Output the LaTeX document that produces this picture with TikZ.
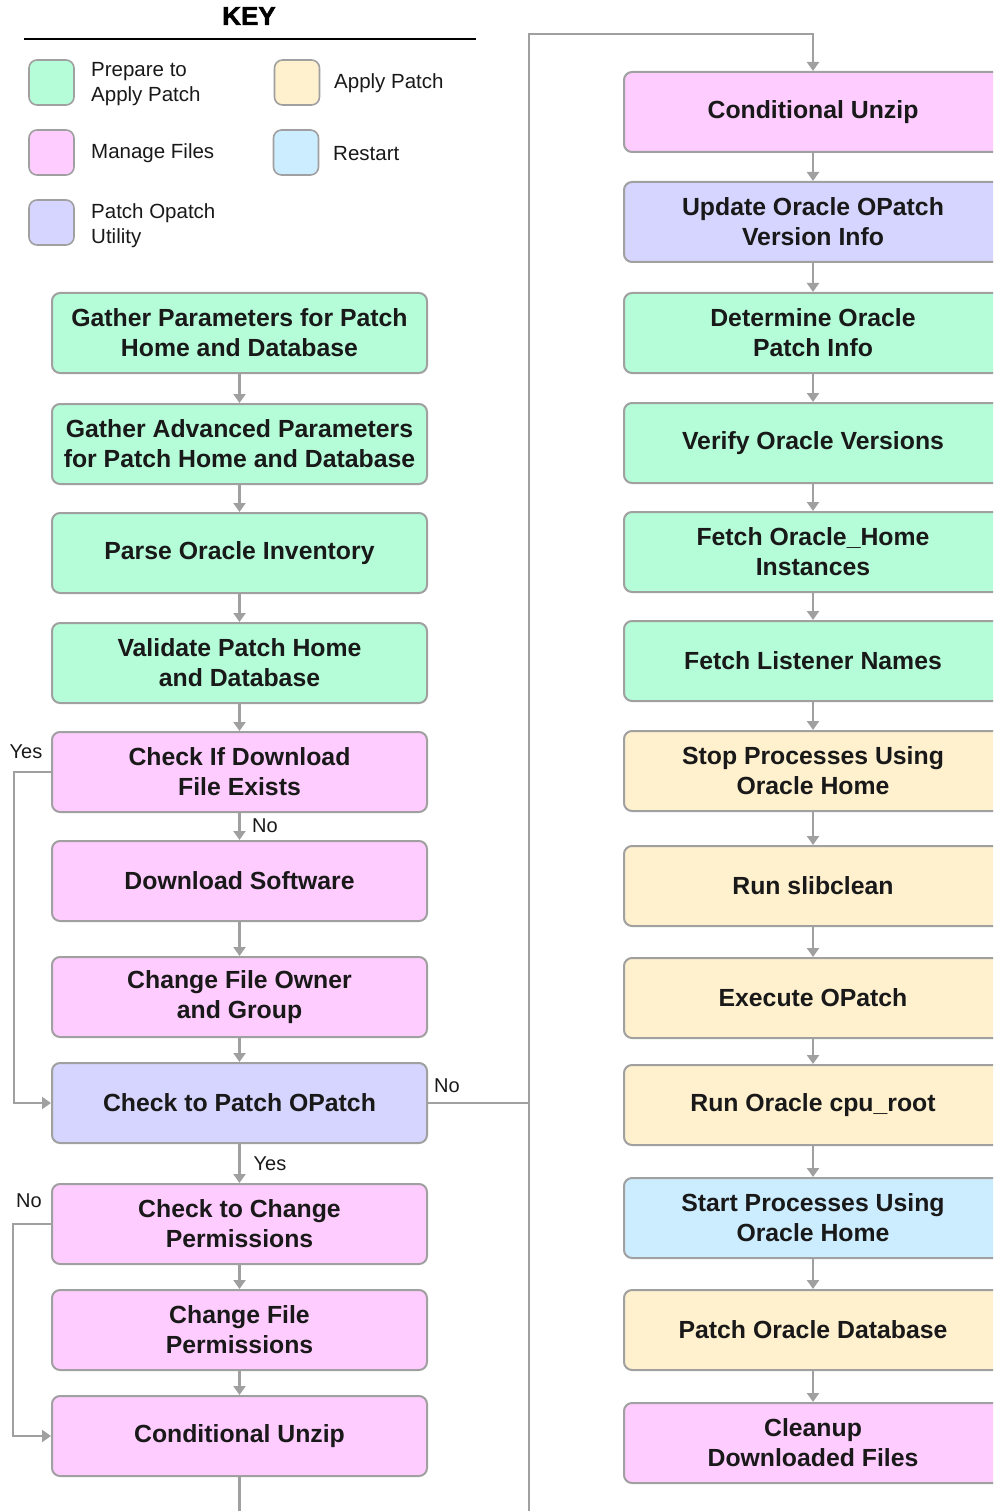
\documentclass[tikz,border=0pt]{standalone}
\usepackage{fontspec}
\setmainfont{Liberation Sans}
\newfontfamily\keyfont[FakeBold=2]{Liberation Sans Bold}
\usetikzlibrary{arrows.meta}
\definecolor{cgreen}{RGB}{180,253,216}
\definecolor{cpink}{RGB}{255,204,255}
\definecolor{clav}{RGB}{213,213,255}
\definecolor{cpeach}{RGB}{255,240,206}
\definecolor{cblue}{RGB}{204,236,255}
\definecolor{cgray}{RGB}{160,160,160}
\definecolor{ctext}{RGB}{25,25,25}
\begin{document}
\begin{tikzpicture}[x=1pt,y=-1pt,
  box/.style={draw=cgray, line width=2pt, rounded corners=8pt, minimum width=375pt,
    minimum height=80pt, align=center, inner sep=0pt, text=ctext,
    font=\fontsize{24.8}{30}\selectfont\bfseries},
  rbox/.style={box, minimum width=378pt},
  swatch/.style={draw=cgray, line width=1.6pt, rounded corners=8pt, minimum size=45pt, inner sep=0pt},
  keytxt/.style={anchor=west, align=left, inner sep=0pt, text=ctext, font=\fontsize{20.5}{25}\selectfont},
  lbl/.style={inner sep=0pt, text=ctext, font=\fontsize{20}{24}\selectfont},
  line/.style={draw=cgray, line width=2.4pt},
  conn/.style={line, -{Triangle[width=12pt,length=9pt]}}
]
\useasboundingbox (0,0) rectangle (993,1511);
\clip (0,0) rectangle (993,1511);

% Key
\node[inner sep=0pt, text=black, font=\fontsize{26}{30}\selectfont\keyfont] (keyt) at (249,16) {KEY};
\draw[line width=2pt, black] (24,39) -- (476,39);
\node[swatch, fill=cgreen] (kg) at (51.5,82.5) {};
\node[swatch, fill=cpink] (kp) at (51.5,152.5) {};
\node[swatch, fill=clav] (kl) at (51.5,222.5) {};
\node[swatch, fill=cpeach] (ko) at (297,82.5) {};
\node[swatch, fill=cblue] (kb) at (296,152.5) {};
\node[keytxt] (kgt) at (91,84) {Prepare to\\Apply Patch};
\node[keytxt] (kpt) at (91,153) {Manage Files};
\node[keytxt] (klt) at (91,226) {Patch Opatch\\Utility};
\node[keytxt] (kot) at (334,83) {Apply Patch};
\node[keytxt] (kbt) at (333,154) {Restart};

% Left column
\node[box, fill=cgreen] (l1) at (239.5,333) {Gather Parameters for Patch\\Home and Database};
\node[box, fill=cgreen] (l2) at (239.5,444) {Gather Advanced Parameters\\for Patch Home and Database};
\node[box, fill=cgreen] (l3) at (239.5,553) {Parse Oracle Inventory};
\node[box, fill=cgreen] (l4) at (239.5,663) {Validate Patch Home\\and Database};
\node[box, fill=cpink] (l5) at (239.5,772) {Check If Download\\File Exists};
\node[box, fill=cpink] (l6) at (239.5,881) {Download Software};
\node[box, fill=cpink] (l7) at (239.5,997) {Change File Owner\\and Group};
\node[box, fill=clav] (l8) at (239.5,1103) {Check to Patch OPatch};
\node[box, fill=cpink] (l9) at (239.5,1224) {Check to Change\\Permissions};
\node[box, fill=cpink] (l10) at (239.5,1330) {Change File\\Permissions};
\node[box, fill=cpink] (l11) at (239.5,1436) {Conditional Unzip};

% Right column
\node[rbox, fill=cpink] (r1) at (813,112) {Conditional Unzip};
\node[rbox, fill=clav] (r2) at (813,222) {Update Oracle OPatch\\Version Info};
\node[rbox, fill=cgreen] (r3) at (813,333) {Determine Oracle\\Patch Info};
\node[rbox, fill=cgreen] (r4) at (813,443) {Verify Oracle Versions};
\node[rbox, fill=cgreen] (r5) at (813,552) {Fetch Oracle\_Home\\Instances};
\node[rbox, fill=cgreen] (r6) at (813,661) {Fetch Listener Names};
\node[rbox, fill=cpeach] (r7) at (813,771) {Stop Processes Using\\Oracle Home};
\node[rbox, fill=cpeach] (r8) at (813,886) {Run slibclean};
\node[rbox, fill=cpeach] (r9) at (813,998) {Execute OPatch};
\node[rbox, fill=cpeach] (r10) at (813,1105) {Run Oracle cpu\_root};
\node[rbox, fill=cblue] (r11) at (813,1218) {Start Processes Using\\Oracle Home};
\node[rbox, fill=cpeach] (r12) at (813,1330) {Patch Oracle Database};
\node[rbox, fill=cpink] (r13) at (813,1443) {Cleanup\\Downloaded Files};

% Vertical connectors
\foreach \a/\b in {l1/l2,l2/l3,l3/l4,l4/l5,l5/l6,l6/l7,l7/l8,l8/l9,l9/l10,l10/l11,
  r1/r2,r2/r3,r3/r4,r4/r5,r5/r6,r6/r7,r7/r8,r8/r9,r9/r10,r10/r11,r11/r12,r12/r13}
  \draw[conn] (\a) -- (\b);

% Branches
\coordinate (topc) at (529,34);
\coordinate (botc) at (239.5,1560);
\draw[conn] (l5.west) -- ++(-37,0) |- (l8.west);
\draw[conn] (l9.west) -- ++(-38,0) |- (l11.west);
\draw[line] (l8.east) -- (l8.east -| topc);
\draw[conn] (l11.south) -- (botc) -| (topc) -| (r1.north);

% Labels
\node[lbl] (yes1) at (26,752) {Yes};
\node[lbl] (no1) at (265,826) {No};
\node[lbl] (no2) at (447,1086) {No};
\node[lbl] (yes2) at (270,1164) {Yes};
\node[lbl] (no3) at (29,1201) {No};
\end{tikzpicture}
\end{document}
